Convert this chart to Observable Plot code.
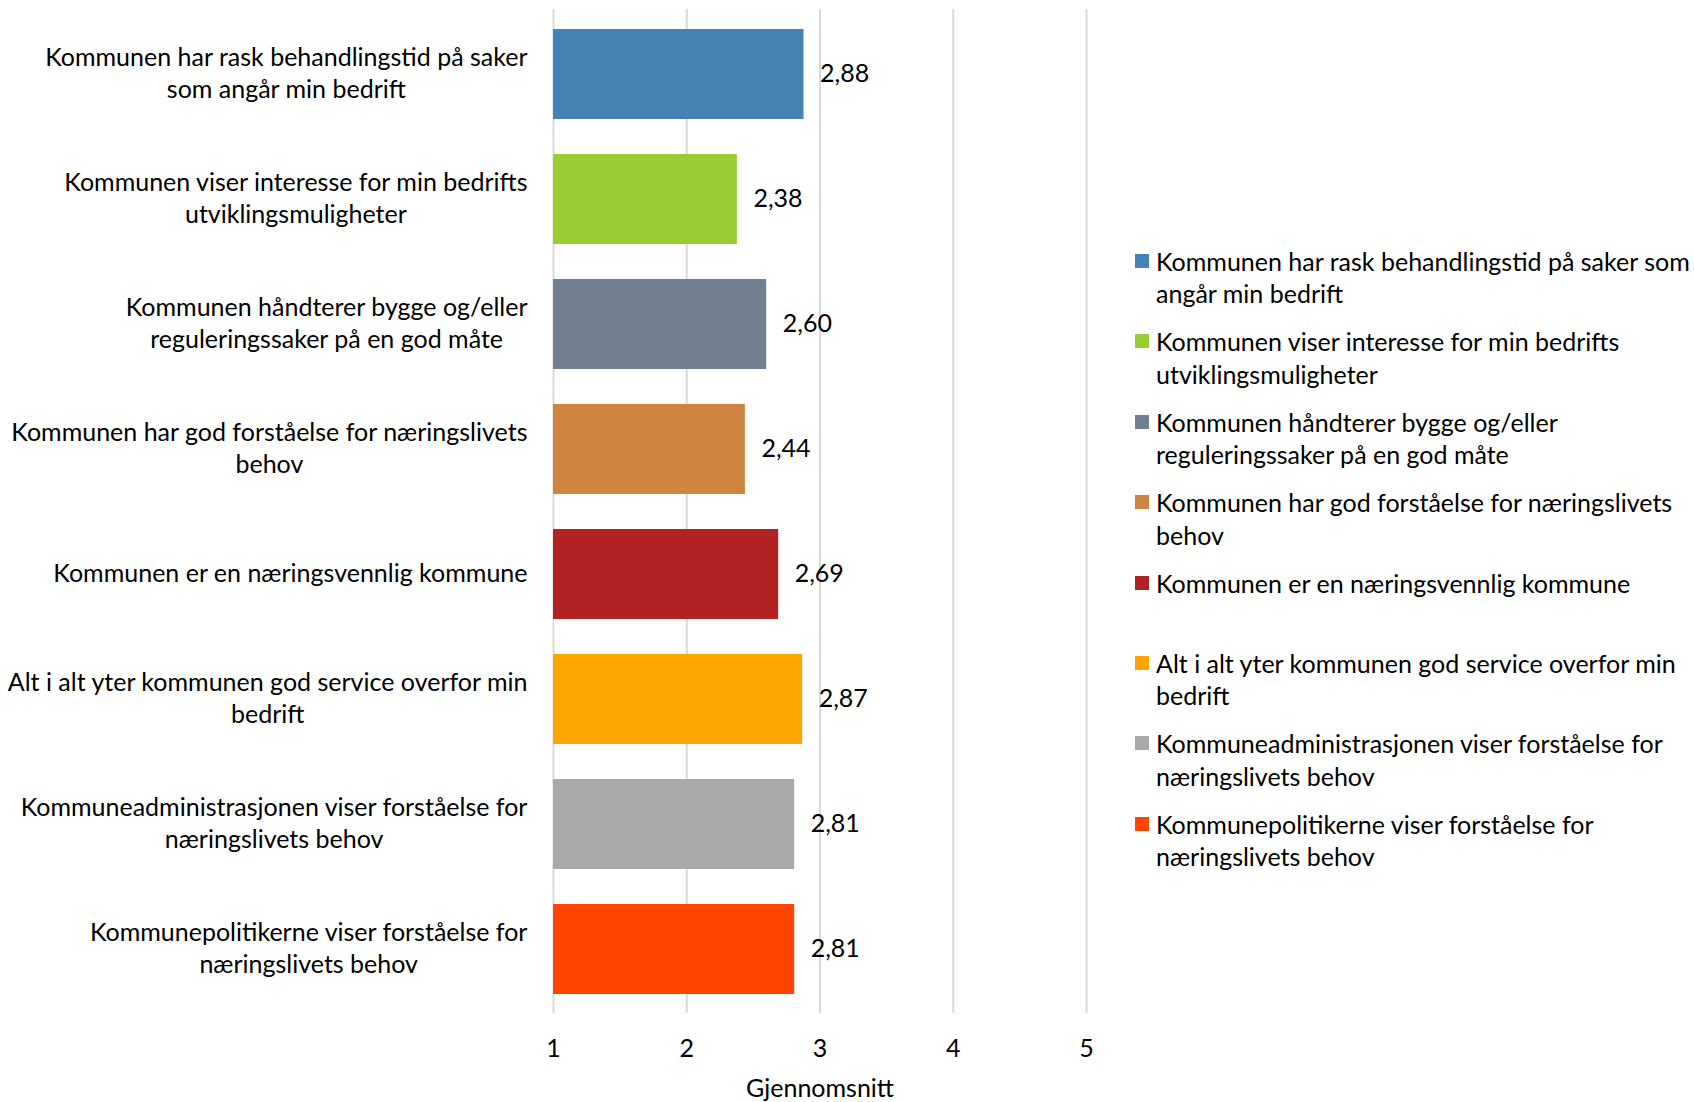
<!DOCTYPE html>
<html>
<head>
<meta charset="utf-8">
<script src="https://cdn.jsdelivr.net/npm/d3@7"></script>
<script src="https://cdn.jsdelivr.net/npm/@observablehq/plot@0.6"></script>
<style>
  body { margin: 0; background: #fff; font-family: Lato, "Open Sans", sans-serif; color: #000; }
  #wrap { position: relative; width: 1694px; height: 1102px; overflow: hidden; }
  #legend { position: absolute; left: 1135px; top: 245px; font-size: 25px; line-height: 32.4px; }
  .item { position: relative; height: 80.4px; padding-left: 21px; white-space: pre; }
  .sw { position: absolute; left: 0; top: 9px; width: 14px; height: 14px; }
</style>
</head>
<body>
<div id="wrap"><div id="legend"></div></div>
<script>
const categories = [
  "Kommunen har rask behandlingstid på saker som angår min bedrift",
  "Kommunen viser interesse for min bedrifts utviklingsmuligheter",
  "Kommunen håndterer bygge og/eller reguleringssaker på en god måte",
  "Kommunen har god forståelse for næringslivets behov",
  "Kommunen er en næringsvennlig kommune",
  "Alt i alt yter kommunen god service overfor min bedrift",
  "Kommuneadministrasjonen viser forståelse for næringslivets behov",
  "Kommunepolitikerne viser forståelse for næringslivets behov"
];
const values = [2.88, 2.38, 2.60, 2.44, 2.69, 2.87, 2.81, 2.81];
const colors = ["steelblue", "yellowgreen", "slategray", "peru", "firebrick", "orange", "darkgray", "orangered"];
const axisLabels = [
  "Kommunen har rask behandlingstid på saker\nsom angår min bedrift",
  "Kommunen viser interesse for min bedrifts\nutviklingsmuligheter",
  "Kommunen håndterer bygge og/eller\nreguleringssaker på en god måte",
  "Kommunen har god forståelse for næringslivets\nbehov",
  "Kommunen er en næringsvennlig kommune",
  "Alt i alt yter kommunen god service overfor min\nbedrift",
  "Kommuneadministrasjonen viser forståelse for\nnæringslivets behov",
  "Kommunepolitikerne viser forståelse for\nnæringslivets behov"
];
const legendLabels = [
  "Kommunen har rask behandlingstid på saker som\nangår min bedrift",
  "Kommunen viser interesse for min bedrifts\nutviklingsmuligheter",
  "Kommunen håndterer bygge og/eller\nreguleringssaker på en god måte",
  "Kommunen har god forståelse for næringslivets\nbehov",
  "Kommunen er en næringsvennlig kommune",
  "Alt i alt yter kommunen god service overfor min\nbedrift",
  "Kommuneadministrasjonen viser forståelse for\nnæringslivets behov",
  "Kommunepolitikerne viser forståelse for\nnæringslivets behov"
];
const xTicks = [1, 2, 3, 4, 5];
const xLabel = "Gjennomsnitt";

const data = categories.map((c, i) => ({cat: c, value: values[i], color: colors[i], label: axisLabels[i]}));
const fmt = v => v.toFixed(2).replace(".", ",");
const labelOf = new Map(data.map(d => [d.cat, d.label]));

const chart = Plot.plot({
  width: 1694,
  height: 1102,
  marginLeft: 553,
  marginRight: 608,
  marginTop: 9,
  marginBottom: 89,
  style: {fontFamily: "Lato, 'Open Sans', sans-serif", fontSize: "25px", color: "#000", background: "#fff"},
  x: {domain: [1, 5]},
  y: {domain: categories, paddingInner: 0.28, paddingOuter: 0.14},
  color: {type: "identity"},
  marks: [
    Plot.ruleX(xTicks, {stroke: "#d9d9d9", strokeWidth: 2, strokeOpacity: 1}),
    Plot.barX(data, {x1: 1, x2: "value", y: "cat", fill: d => d.color}),
    Plot.text(data, {x: "value", y: "cat", text: d => fmt(d.value), textAnchor: "start", dx: 16, dy: -1, fill: "#000", fontSize: 25}),
    Plot.axisX({ticks: xTicks, tickSize: 0, tickPadding: 26, tickFormat: d => String(d), label: xLabel, labelAnchor: "center", labelArrow: "none", labelOffset: 83, fontSize: 25}),
    Plot.axisY({tickSize: 0, tickPadding: 26, dy: -3, tickFormat: d => labelOf.get(d), label: null, fontSize: 25, lineHeight: 1.3})
  ]
});
document.getElementById("wrap").prepend(chart);

// Centre the lines of each category label within its right-aligned block
const yText = chart.querySelector('g[aria-label="y-axis tick label"]');
if (yText) {
  yText.querySelectorAll("text").forEach(t => {
    const w = t.getBBox().width;
    t.setAttribute("text-anchor", "middle");
    const tr = t.getAttribute("transform") || "";
    t.setAttribute("transform", tr + ` translate(${-w / 2},0)`);
  });
}

const legend = d3.select("#legend");
legendLabels.forEach((lab, i) => {
  const it = legend.append("div").attr("class", "item");
  it.append("div").attr("class", "sw").style("background", colors[i]);
  it.append("span").text(lab);
});
</script>
</body>
</html>
